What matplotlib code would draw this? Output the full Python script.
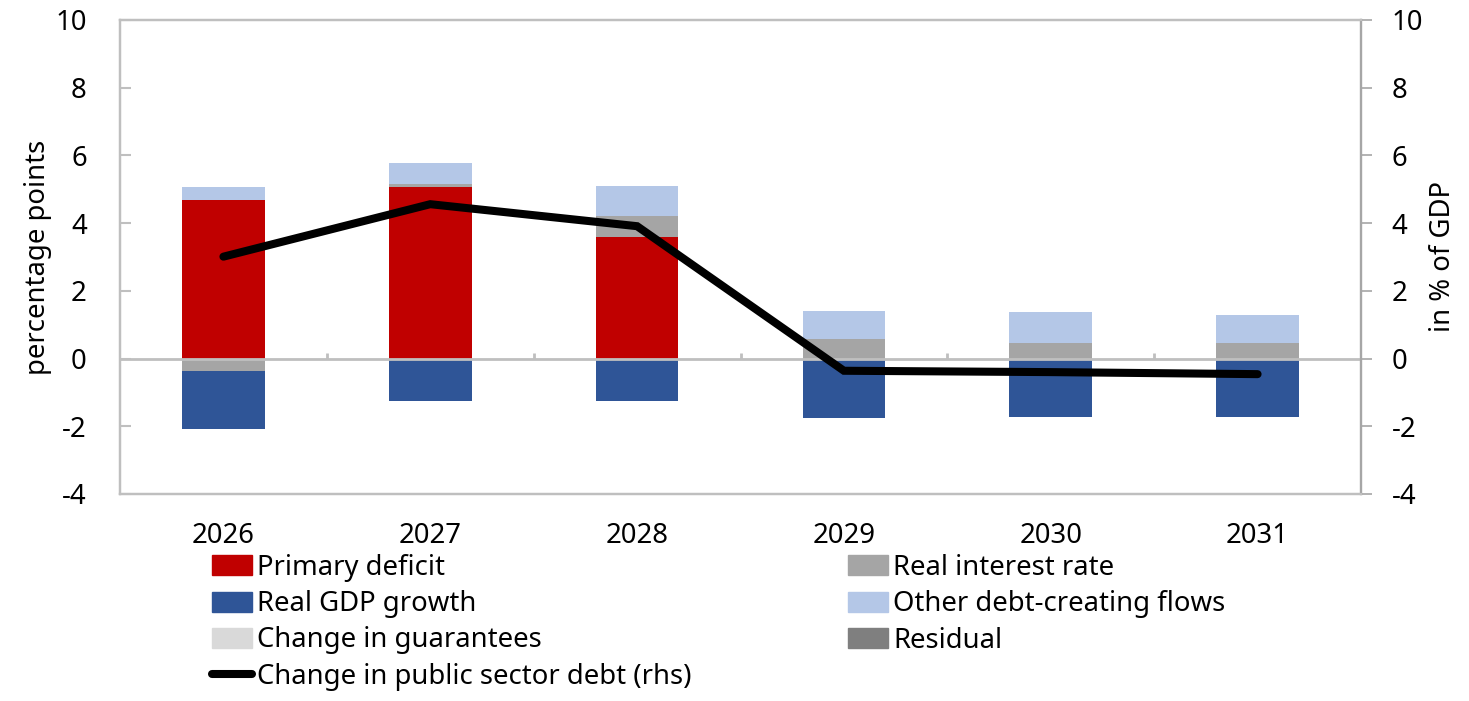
import numpy as np
import matplotlib.pyplot as plt
from matplotlib.patches import Patch
from matplotlib.lines import Line2D

plt.rcParams['font.family'] = ['Noto Sans', 'DejaVu Sans']
plt.rcParams['font.size'] = 19.8
plt.rcParams['axes.unicode_minus'] = False

years = ['2026', '2027', '2028', '2029', '2030', '2031']
primary_deficit = [4.68, 5.07, 3.59, 0.0, 0.0, 0.0]
real_interest = [-0.37, 0.08, 0.62, 0.58, 0.46, 0.46]
real_gdp_growth = [-1.71, -1.24, -1.24, -1.75, -1.72, -1.72]
other_flows = [0.39, 0.62, 0.89, 0.82, 0.91, 0.82]
guarantees = [0.0, 0.0, 0.0, 0.0, 0.0, 0.0]
residual = [0.0, 0.0, 0.0, 0.0, 0.0, 0.0]
debt_change = [3.01, 4.56, 3.91, -0.36, -0.40, -0.46]

series = [
    ('Primary deficit', primary_deficit, '#C00000'),
    ('Real interest rate', real_interest, '#A5A5A5'),
    ('Real GDP growth', real_gdp_growth, '#2F5597'),
    ('Other debt-creating flows', other_flows, '#B4C7E7'),
    ('Change in guarantees', guarantees, '#D9D9D9'),
    ('Residual', residual, '#7F7F7F'),
]

fig = plt.figure(figsize=(14.69, 7.01), dpi=100)
ax = fig.add_axes([120 / 1469, 1 - 494 / 701, 1241 / 1469, 474 / 701])
x = np.arange(len(years))

# stack positives upward and negatives downward, in series order
pos = np.zeros(len(years))
neg = np.zeros(len(years))
for name, vals, col in series:
    v = np.array(vals)
    base = np.where(v >= 0, pos, neg)
    ax.bar(x, v, 0.4, bottom=base, color=col, zorder=2)
    pos = pos + np.where(v >= 0, v, 0)
    neg = neg + np.where(v < 0, v, 0)

grid_col = '#BFBFBF'
ax.axhline(0, color=grid_col, lw=2, zorder=3)
ax.vlines(x[:-1] + 0.5, 0, 0.15, color=grid_col, lw=2, zorder=3)

ax2 = ax.twinx()
ax2.plot(x, debt_change, color='black', lw=5.8, solid_capstyle='round',
         solid_joinstyle='miter', zorder=4)

for a in (ax, ax2):
    a.set_ylim(-4, 10)
    a.set_yticks(range(-4, 11, 2))
    a.set_xlim(-0.5, len(years) - 0.5)
    for s in a.spines.values():
        s.set_color(grid_col)
        s.set_linewidth(1.6)
ax2.spines['right'].set_color('#A6A6A6')

ax.set_xticks(x)
ax.set_xticklabels(years)
ax.tick_params(axis='x', length=0, pad=20)
ax.tick_params(axis='y', direction='in', length=8, width=1.5, color=grid_col, pad=24)
ax2.tick_params(axis='y', direction='out', length=8, width=1.2, color='#A6A6A6', pad=14)
ax.set_ylabel('percentage points', labelpad=2)
ax2.set_ylabel('in % of GDP', labelpad=4)

ax2.set_zorder(ax.get_zorder() + 1)
ax2.patch.set_visible(False)

h = {name: Patch(color=col) for name, vals, col in series}
line_h = Line2D([], [], color='black', lw=5.8, solid_capstyle='round')
handles = [h['Primary deficit'], h['Real GDP growth'], h['Change in guarantees'], line_h,
           h['Real interest rate'], h['Other debt-creating flows'], h['Residual']]
labels = ['Primary deficit', 'Real GDP growth', 'Change in guarantees',
          'Change in public sector debt (rhs)',
          'Real interest rate', 'Other debt-creating flows', 'Residual']
fig.legend(handles, labels, ncol=2, loc='upper left', bbox_to_anchor=(212 / 1469, 1 - 554 / 701),
           frameon=False, borderpad=0, borderaxespad=0, handlelength=1.45, handleheight=0.75,
           handletextpad=0.18, labelspacing=0.3, columnspacing=5.7)

fig.savefig('out.png', dpi=100)
